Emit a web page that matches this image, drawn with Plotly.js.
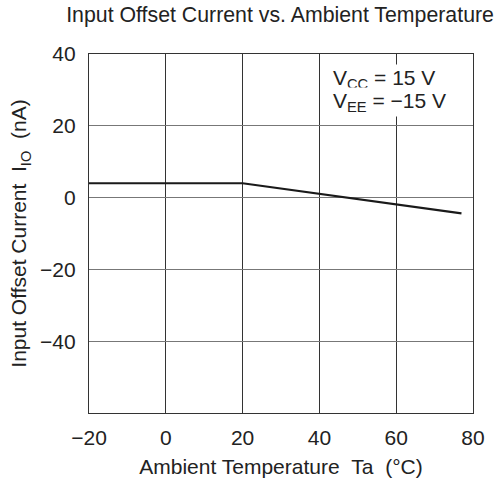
<!DOCTYPE html>
<html><head><meta charset="utf-8">
<script src="https://cdn.plot.ly/plotly-3.0.1.min.js"></script>
<style>body{margin:0;background:#fff}</style>
</head><body>
<div id="chart" style="width:501px;height:483px"></div>
<script>
const temperature = [-20, 20, 77];
const offsetCurrent = [4, 4, -4.4];
const xTicks = [-20, 0, 20, 40, 60, 80];
const xTickLabels = ['\u221220', '0', '20', '40', '60', '80'];
const yTicks = [-40, -20, 0, 20, 40];
const yTickLabels = ['\u221240', '\u221220', '0', '20', '40'];

const font = 'Liberation Sans, Arial, sans-serif';
const sp = '\u00a0';
Plotly.newPlot('chart', [{
  x: temperature, y: offsetCurrent, mode: 'lines',
  line: {color: '#1a1a1a', width: 2.2}, hoverinfo: 'skip'
}], {
  width: 501, height: 483,
  margin: {l: 89, r: 28, t: 54, b: 70},
  paper_bgcolor: '#fff', plot_bgcolor: '#fff',
  showlegend: false,
  font: {family: font, color: '#222', size: 21},
  title: {text: 'Input Offset Current vs. Ambient Temperature', font: {size: 21.3, family: font, color: '#222'}, x: 0.559, xanchor: 'center', y: 0.985, yanchor: 'top'},
  xaxis: {range: [-20, 80], tickvals: xTicks, ticktext: xTickLabels, showgrid: true, gridcolor: '#333', gridwidth: 1,
    zeroline: false, showline: true, linecolor: '#333', linewidth: 1.2, mirror: true, ticks: '', fixedrange: true,
    tickfont: {size: 21}, ticklabelstandoff: 6,
    title: {text: 'Ambient Temperature' + sp + sp + 'Ta' + sp + sp + '(°C)', font: {size: 21, family: font}, standoff: 10}},
  yaxis: {range: [-60, 40], tickvals: yTicks, ticktext: yTickLabels, showgrid: true, gridcolor: '#777', gridwidth: 1,
    zeroline: false, showline: true, linecolor: '#333', linewidth: 1.2, mirror: true, ticks: '', fixedrange: true,
    tickfont: {size: 21}, ticklabelstandoff: 8,
    title: {text: 'Input Offset Current' + sp + sp + 'I<sub>IO</sub>' + sp + sp + '(nA)', font: {size: 21, family: font}, standoff: 7}},
  annotations: [{
    xref: 'x', yref: 'y', x: 43.0, y: 33.1, xanchor: 'left', yanchor: 'middle',
    text: 'V<sub>CC</sub> = 15 V', align: 'left', showarrow: false,
    bgcolor: '#fff', font: {size: 21, family: font, color: '#222'}, borderpad: 1
  }, {
    xref: 'x', yref: 'y', x: 43.0, y: 26.6, xanchor: 'left', yanchor: 'middle',
    text: 'V<sub>EE</sub> = \u221215 V', align: 'left', showarrow: false,
    bgcolor: '#fff', font: {size: 21, family: font, color: '#222'}, borderpad: 1
  }]
}, {staticPlot: true});
</script>
</body></html>
